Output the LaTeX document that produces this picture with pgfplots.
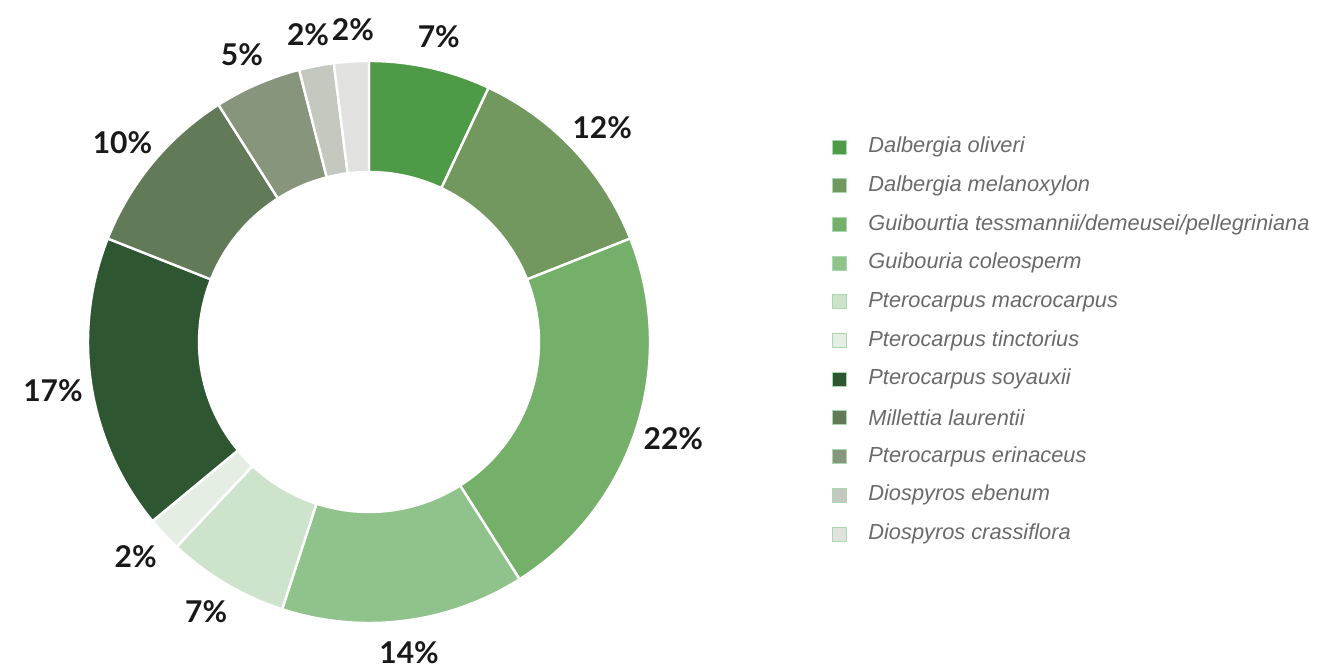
\documentclass[border=0pt]{standalone}
\usepackage{pgfplots}
\pgfplotsset{compat=1.18}
\usepackage{pgfplotstable}
\usepackage{fontspec}
\setmainfont{Lato}
\newfontfamily\legfont{Liberation Sans}

\definecolor{c1}{HTML}{4E9A47}
\definecolor{c2}{HTML}{72975F}
\definecolor{c3}{HTML}{74B06A}
\definecolor{c4}{HTML}{90C38B}
\definecolor{c5}{HTML}{CDE3CB}
\definecolor{c6}{HTML}{E4EEE2}
\definecolor{c7}{HTML}{2E5630}
\definecolor{c8}{HTML}{637A59}
\definecolor{c9}{HTML}{88957D}
\definecolor{c10}{HTML}{C3C9BF}
\definecolor{c11}{HTML}{E1E2E0}
\definecolor{legtext}{HTML}{6A6A6A}
\definecolor{legedge}{HTML}{A8D8B0}

\tikzset{
  lbl/.style={font=\fontsize{15}{18}\selectfont\bfseries, text=black!90, inner sep=0pt},
  leg/.style={font=\legfont\fontsize{10.9}{13}\selectfont\itshape, text=legtext, anchor=west, inner sep=0pt},
}

% share of each species (%), clockwise from top; nudge = label shift in px
\pgfplotstableread[col sep=comma]{
name,value,color,nudge
Dalbergia oliveri,7,c1,0
Dalbergia melanoxylon,12,c2,0
Guibourtia tessmannii/demeusei/pellegriniana,22,c3,0
Guibouria coleosperm,14,c4,0
Pterocarpus macrocarpus,7,c5,0
Pterocarpus tinctorius,2,c6,0
Pterocarpus soyauxii,17,c7,0
Millettia laurentii,10,c8,0
Pterocarpus erinaceus,5,c9,0
Diospyros ebenum,2,c10,-1
Diospyros crassiflora,2,c11,4
}\slices

\begin{document}
\begin{tikzpicture}
\begin{axis}[
  hide axis, scale only axis, clip=false,
  x=0.5pt, y=0.5pt,
  xmin=0, xmax=1319, ymin=0, ymax=668,
]
\addplot[draw=none, forget plot] coordinates {(0,0) (1319,668)};
\pgfmathsetmacro\cum{0}
\pgfplotsforeachungrouped \i in {0,...,10}{
  \pgfplotstablegetelem{\i}{value}\of\slices \let\v\pgfplotsretval
  \pgfplotstablegetelem{\i}{color}\of\slices \let\col\pgfplotsretval
  \pgfplotstablegetelem{\i}{name}\of\slices \let\nm\pgfplotsretval
  \pgfplotstablegetelem{\i}{nudge}\of\slices \let\nd\pgfplotsretval
  \pgfmathsetmacro\aone{90-3.6*\cum}
  \pgfmathsetmacro\atwo{90-3.6*(\cum+\v)}
  \pgfmathsetmacro\amid{(\aone+\atwo)/2}
  % labels sit on a slightly flattened ring
  \pgfmathsetmacro\lx{160*cos(\amid)+0.5*\nd}
  \pgfmathsetmacro\lyy{156.5*sin(\amid)}
  \pgfmathsetmacro\ly{668-147-38.7*\i}
  \pgfmathsetmacro\lylo{\ly-7}
  \pgfmathsetmacro\lyhi{\ly+7}
  \edef\cmd{%
    \noexpand\draw[fill=\col, draw=white, line width=1.2pt]
      (axis cs:369,326) ++(\aone:140.5pt)
      arc[start angle=\aone, end angle=\atwo, radius=140.5pt]
      -- ([shift={(\atwo:85pt)}]axis cs:369,326)
      arc[start angle=\atwo, end angle=\aone, radius=85pt] -- cycle;
    \noexpand\node[lbl] at ([shift={(\lx pt,\lyy pt)}]axis cs:369,326) {\v\noexpand\%};
    \noexpand\draw[fill=\col, draw=legedge, line width=0.4pt]
      (axis cs:832,\lylo) rectangle (axis cs:846,\lyhi);
    \noexpand\node[leg] at (axis cs:868,\ly) {\nm};
  }
  \cmd
  \pgfmathsetmacro\cum{\cum+\v}
}
\end{axis}
\end{tikzpicture}
\end{document}
